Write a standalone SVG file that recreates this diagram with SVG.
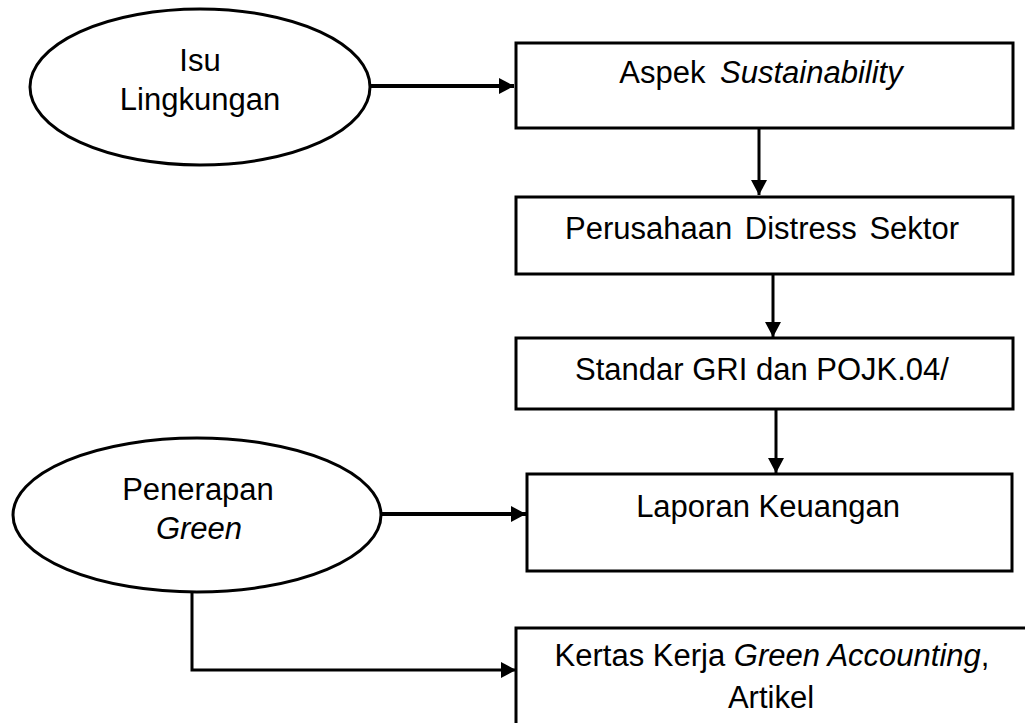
<svg xmlns="http://www.w3.org/2000/svg" width="1025" height="723" viewBox="0 0 1025 723">
<defs>
<style>
.shape{fill:#fff;stroke:#000;stroke-width:3}
.t{font-family:"Liberation Sans",Arial,sans-serif;font-size:31px;fill:#000;text-anchor:middle}
.i{font-style:italic}
.c{fill:none;stroke:#000;stroke-width:3}
.thick{stroke-width:4}
</style>
<marker id="ah" markerUnits="userSpaceOnUse" viewBox="0 0 15 16" refX="15" refY="8" markerWidth="15" markerHeight="16" orient="auto">
<path d="M0,0 L15,8 L0,16 Z" fill="#000"/>
</marker>
</defs>
<rect width="1025" height="723" fill="#fff"/>
<g id="connectors">
<path class="c thick" d="M370,86 H514" marker-end="url(#ah)"/>
<path class="c" d="M759,128 V195" marker-end="url(#ah)"/>
<path class="c" d="M773,274 V337" marker-end="url(#ah)"/>
<path class="c" d="M776,409 V473" marker-end="url(#ah)"/>
<path class="c thick" d="M382,514 H526" marker-end="url(#ah)"/>
<path class="c" d="M192,593 V670 H516" marker-end="url(#ah)"/>
</g>
<g id="isu-lingkungan">
<ellipse class="shape" cx="200" cy="87" rx="170" ry="78"/>
<text class="t" x="200" y="71">Isu</text>
<text class="t" x="200" y="110">Lingkungan</text>
</g>
<g id="aspek">
<rect class="shape" x="516" y="43" width="497" height="85"/>
<text class="t" x="761" y="83" word-spacing="6">Aspek <tspan class="i">Sustainability</tspan></text>
</g>
<g id="perusahaan">
<rect class="shape" x="516" y="197" width="497" height="77"/>
<text class="t" x="762" y="239" word-spacing="4">Perusahaan Distress Sektor</text>
</g>
<g id="standar">
<rect class="shape" x="516" y="338" width="497" height="71"/>
<text class="t" x="762" y="380">Standar GRI dan POJK.04/</text>
</g>
<g id="penerapan">
<ellipse class="shape" cx="197" cy="515" rx="184" ry="77"/>
<text class="t" x="198" y="500">Penerapan</text>
<text class="t i" x="199" y="539">Green</text>
</g>
<g id="laporan">
<rect class="shape" x="527" y="474" width="485" height="97"/>
<text class="t" x="768" y="517">Laporan Keuangan</text>
</g>
<g id="kertas">
<rect class="shape" x="516" y="628" width="530" height="120"/>
<text class="t" x="772" y="666">Kertas Kerja <tspan class="i">Green Accounting</tspan>,</text>
<text class="t" x="771" y="708">Artikel</text>
</g>
</svg>
